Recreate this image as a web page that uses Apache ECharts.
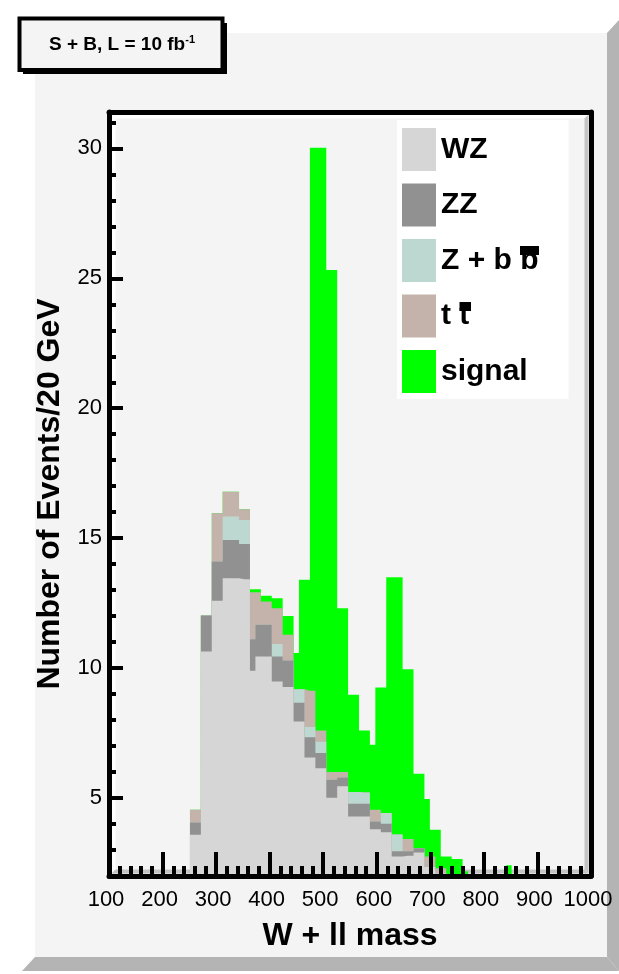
<!DOCTYPE html>
<html><head><meta charset="utf-8">
<script src="https://cdn.jsdelivr.net/npm/echarts@6/dist/echarts.min.js"></script>
<style>html,body{margin:0;padding:0;background:#fff}#c{width:619px;height:974px}</style>
</head><body><div id="c"></div>
<script>
// ---- data (fine sub-bins, left edge binStart, width binWidth in GeV) ----
const processes = ['WZ', 'ZZ', 'Z + b b', 't t', 'signal'];
const colors = ['#d6d6d6', '#919191', '#bdd7d1', '#c4b3aa', '#00ff00'];
const binStart = 251.2;
const binWidth = 10.18;
const wz  = [3.59,3.59,10.64,10.64,12.59,12.59,13.46,13.46,13.46,13.42,13.42,9.90,10.45,10.45,10.45,9.48,9.48,9.27,9.27,7.95,7.95,6.56,6.56,6.15,6.15,5.01,5.01,5.45,5.45,4.29,4.29,4.29,4.29,3.80,3.80,3.68,3.68,2.75,2.75,2.78,2.78,2.90,2.90,2.35,2.35,2.10,2.10,0,0,0,0,0,0,0,0,0,0,0,0,0,0];
const zz  = [0.47,0.47,1.38,1.38,1.51,1.51,1.47,1.47,1.47,1.36,1.36,1.21,1.22,1.22,1.22,0.97,0.97,1.02,1.02,0.72,0.72,0.78,0.78,0.58,0.58,0.69,0.69,0.34,0.34,0.49,0.49,0.49,0.49,0.30,0.30,0.33,0.33,0.20,0.20,0.17,0.17,0.17,0.17,0,0,0,0,0,0,0,0,0,0,0,0,0,0,0,0,0,0];
const zbb = [0,0,0,0,0,0,0.90,0.90,0.90,0.92,0.92,0,0,0,0,0.48,0.48,0,0,0.52,0.52,0.39,0.39,0.44,0.44,0,0,0,0,0.45,0.45,0.43,0.43,0,0,0.41,0.41,0.65,0.65,0,0,0,0,0,0,0,0,0,0,0,0,0,0,0,0,0,0,0,0,0,0];
const ttbar = [0.49,0.49,0,0,1.86,1.86,0.96,0.96,0.96,0.41,0.41,1.81,1.25,0.89,0.89,1.37,1.37,0.99,0.99,0,0,1.40,1.40,0.43,0.43,0.30,0.30,0.21,0.21,0,0,0,0,0.45,0.45,0,0,0,0,0.47,0.47,0,0,0.40,0.40,0.20,0.20,0,0,0,0,0,0,0,0,0,0,0,0,0,0];
const signal = [0,0,0,0,0,0,0,0,0,0,0,0.11,0.11,0.22,0.22,0.39,0.39,0.73,0.73,1.39,4.21,4.27,20.89,22.42,22.42,19.32,19.32,6.30,6.30,3.74,3.74,2.39,2.39,2.50,4.70,4.83,9.08,9.90,9.90,6.54,6.54,2.86,2.86,2.21,1.03,1.48,0.45,2.75,2.65,2.65,2.18,0,0,0,0,0,0,0,2.41,0,0];
const xTickLabels = [100,200,300,400,500,600,700,800,900,1000];
const yTickLabels = [5,10,15,20,25,30];
const yMinorTicks = [3,4,6,7,8,9,11,12,13,14,16,17,18,19,21,22,23,24,26,27,28,29,31];
const seriesValues = [wz, zz, zbb, ttbar, signal];

const FONT = 'Liberation Sans';
const chart = echarts.init(document.getElementById('c'));

// cumulative stack (bottom-up), drawn back-to-front
const cumulative = [];
seriesValues.forEach((vals, i) => {
  cumulative.push(vals.map((v, k) => v + (i > 0 ? cumulative[i - 1][k] : 0)));
});

function stepData(vals) {
  const d = vals.map((v, k) => [binStart + k * binWidth, v]);
  d.push([binStart + vals.length * binWidth, vals[vals.length - 1]]);
  return d;
}

const series = [];
for (let i = seriesValues.length - 1; i >= 0; i--) {
  series.push({
    name: processes[i],
    type: 'line',
    step: 'end',
    data: stepData(cumulative[i]),
    showSymbol: false,
    symbol: 'none',
    xAxisIndex: 0, yAxisIndex: 0,
    itemStyle: { color: colors[i] },
    lineStyle: { color: colors[i], width: 0, opacity: 0 },
    areaStyle: { color: colors[i], opacity: 1, origin: 'start' },
    emphasis: { disabled: true },
    clip: true,
    z: 2
  });
}

chart.setOption({
  animation: false,
  backgroundColor: '#ffffff',
  grid: { left: 109, right: 28, top: 112, bottom: 98, show: false },
  xAxis: [
    {
      type: 'value', min: 100, max: 1000, interval: 100, position: 'bottom', z: 10,
      axisLine: { show: true, lineStyle: { color: '#000', width: 5 } },
      axisTick: { show: true, inside: true, length: 24, lineStyle: { color: '#000', width: 4 } },
      minorTick: { show: true, splitNumber: 5, length: 10, lineStyle: { color: '#000', width: 4 } },
      splitLine: { show: false }, minorSplitLine: { show: false },
      axisLabel: { show: true, margin: 13, fontSize: 22, color: '#000', fontFamily: FONT, padding: [0, 6, 0, 0],
                   customValues: xTickLabels, formatter: (v) => String(v) },
      name: 'W + ll mass', nameLocation: 'middle', nameGap: 44,
      nameTextStyle: { fontSize: 32, fontWeight: 'bold', color: '#000', fontFamily: FONT }
    },
    {
      type: 'value', min: 100, max: 1000, position: 'top', z: 10,
      axisLine: { show: true, lineStyle: { color: '#000', width: 5 } },
      axisTick: { show: false }, axisLabel: { show: false }, splitLine: { show: false }
    }
  ],
  yAxis: [
    {
      type: 'value', min: 2, max: 31.4, position: 'left', z: 10,
      axisLine: { show: true, lineStyle: { color: '#000', width: 5 } },
      axisTick: { show: true, inside: true, length: 14, customValues: yTickLabels, lineStyle: { color: '#000', width: 4 } },
      axisLabel: { show: true, margin: 7, fontSize: 22, color: '#000', fontFamily: FONT, customValues: yTickLabels },
      splitLine: { show: false },
      name: 'Number of Events/20 GeV', nameLocation: 'middle', nameGap: 40, nameRotate: 90,
      nameTextStyle: { fontSize: 32, fontWeight: 'bold', color: '#000', fontFamily: FONT }
    },
    {
      type: 'value', min: 2, max: 31.4, position: 'left', z: 10,
      axisLine: { show: false },
      axisTick: { show: true, inside: true, length: 7, customValues: yMinorTicks, lineStyle: { color: '#000', width: 4 } },
      axisLabel: { show: false }, splitLine: { show: false }
    },
    {
      type: 'value', min: 2, max: 31.4, position: 'right', z: 10,
      axisLine: { show: true, lineStyle: { color: '#000', width: 5 } },
      axisTick: { show: false }, axisLabel: { show: false }, splitLine: { show: false }
    }
  ],
  legend: {
    show: true, orient: 'vertical', left: 397, top: 120,
    padding: [8, 30, 6, 5], itemGap: 12.5, itemWidth: 34, itemHeight: 43,
    icon: 'rect', backgroundColor: '#ffffff', selectedMode: false,
    itemStyle: { borderWidth: 0 },
    textStyle: { fontSize: 30, fontWeight: 'bold', color: '#000', fontFamily: FONT },
    data: processes.map((p, i) => ({ name: p, icon: 'rect', itemStyle: { color: colors[i], borderWidth: 0 } }))
  },
  graphic: [
    // canvas
    { type: 'rect', z: -10, shape: { x: 35, y: 33, width: 572, height: 924 }, style: { fill: '#f4f4f4' }, silent: true },
    { type: 'polygon', z: -9, shape: { points: [[607, 33], [619, 20], [619, 971], [607, 957]] }, style: { fill: '#b4b4b4' }, silent: true },
    { type: 'polygon', z: -9, shape: { points: [[35, 957], [607, 957], [619, 971], [22, 971]] }, style: { fill: '#b4b4b4' }, silent: true },
    // frame bevel inside the plot
    { type: 'polygon', z: -5, shape: { points: [[111.5, 114.5], [588.5, 114.5], [584.5, 118.5], [115.5, 118.5]] }, style: { fill: '#ffffff' }, silent: true },
    { type: 'polygon', z: -5, shape: { points: [[111.5, 114.5], [115.5, 118.5], [115.5, 869.5], [111.5, 873.5]] }, style: { fill: '#ffffff' }, silent: true },
    { type: 'polygon', z: -5, shape: { points: [[588.5, 114.5], [588.5, 873.5], [584.5, 869.5], [584.5, 118.5]] }, style: { fill: '#c4c4c4' }, silent: true },
    { type: 'polygon', z: -5, shape: { points: [[111.5, 873.5], [588.5, 873.5], [584.5, 869.5], [115.5, 869.5]] }, style: { fill: '#c4c4c4' }, silent: true },
    // title box
    { type: 'rect', z: 50, shape: { x: 23, y: 23, width: 204, height: 51 }, style: { fill: '#000' }, silent: true },
    { type: 'rect', z: 51, shape: { x: 19.5, y: 18.5, width: 203, height: 51.5 }, style: { fill: '#f4f4f4', stroke: '#000', lineWidth: 4 }, silent: true },
    { type: 'text', z: 52, x: 122, y: 45, silent: true,
      style: { text: '{m|S + B, L = 10 fb}{s|-1}', fill: '#000', align: 'center', verticalAlign: 'middle',
        rich: {
          m: { fontSize: 19, fontWeight: 'bold', fontFamily: FONT, lineHeight: 22, fill: '#000' },
          s: { fontSize: 11, fontWeight: 'bold', fontFamily: FONT, lineHeight: 11, verticalAlign: 'top', fill: '#000' }
        } } },
    // overline bars for anti-quarks in the legend
    { type: 'rect', z: 60, shape: { x: 520, y: 246, width: 19, height: 9 }, style: { fill: '#000' }, silent: true },
    { type: 'rect', z: 60, shape: { x: 459.5, y: 302, width: 11.5, height: 9 }, style: { fill: '#000' }, silent: true }
  ],
  series: series
});
</script></body></html>
